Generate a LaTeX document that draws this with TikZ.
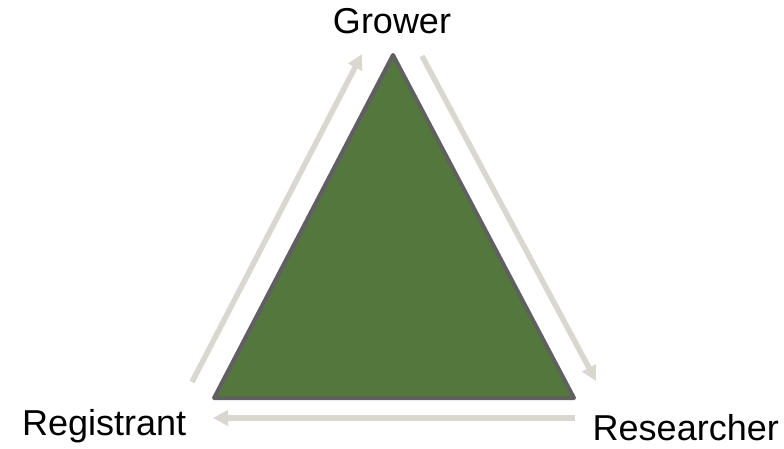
\documentclass[tikz,border=0pt]{standalone}
\usepackage{fontspec}
\setmainfont{Liberation Sans}
\usepackage{tikz}
\usetikzlibrary{arrows.meta}
\definecolor{leafgreen}{HTML}{54773E}
\definecolor{edgegray}{HTML}{606060}
\definecolor{flowgray}{HTML}{D8D8D0}

\begin{document}
\begin{tikzpicture}[
  x=1pt, y=-1pt,
  role/.style={inner sep=0pt, font=\fontsize{36}{40}\selectfont},
  flow/.style={draw=flowgray, line width=5.5pt, -{Triangle[length=15pt,width=15pt]}},
]
\useasboundingbox (0,0) rectangle (784,448);
% corners of the triangle
\coordinate (top) at (393,55);
\coordinate (left) at (214,398);
\coordinate (right) at (574,398);
\draw[fill=leafgreen, draw=edgegray, line width=4pt, line join=round] (top) -- (left) -- (right) -- cycle;
% roles
\node[role, anchor=base] (grower) at (392,33) {Grower};
\node[role, anchor=base west] (registrant) at (22,435) {Registrant};
\node[role, anchor=base east] (researcher) at (779,440) {Researcher};
% flow ends
\coordinate (regout) at (192,382);
\coordinate (growin) at (362,54);
\coordinate (growout) at (422,56);
\coordinate (resin) at (596,381);
\coordinate (resout) at (575,418);
\coordinate (regin) at (213,418);
\draw[flow] (regout) -- (growin);
\draw[flow] (growout) -- (resin);
\draw[flow] (resout) -- (regin);
\end{tikzpicture}
\end{document}
